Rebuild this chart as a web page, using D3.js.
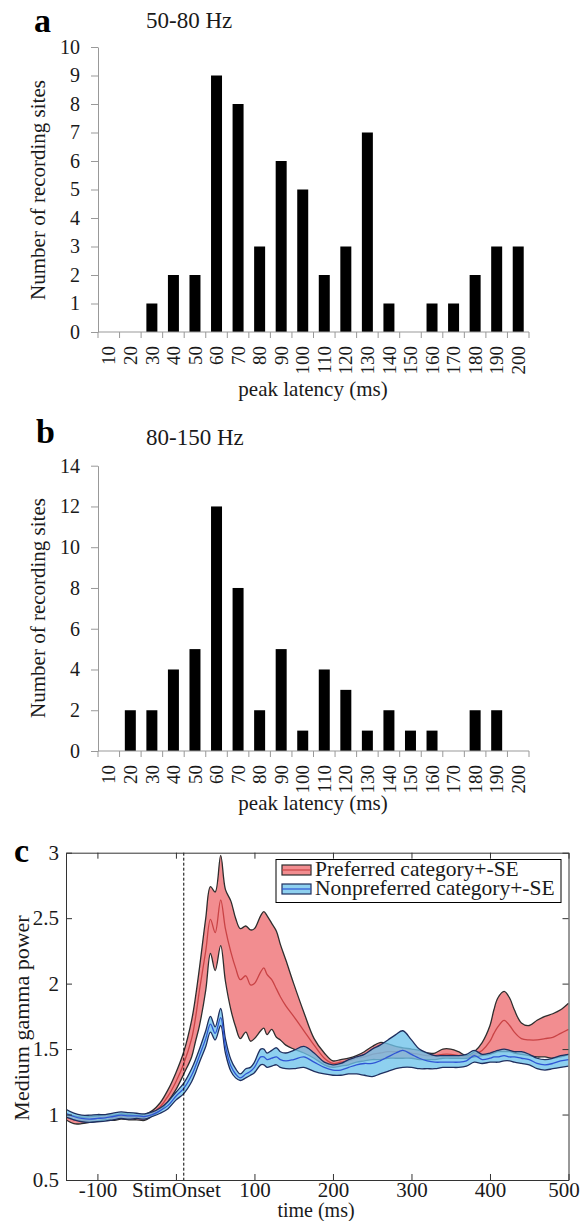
<!DOCTYPE html>
<html>
<head>
<meta charset="utf-8">
<script src="https://cdn.jsdelivr.net/npm/d3@7"></script>
<style>
  body { margin: 0; background: #fff; }
  svg, svg text { font-family: "Liberation Serif", "Times New Roman", Times, serif; }
  svg { display: block; }
</style>
</head>
<body>
<svg id="fig" width="580" height="1221"></svg>
<script>
// ---- Histogram data: number of recording sites per peak-latency bin ----
const latencyBins = [10, 20, 30, 40, 50, 60, 70, 80, 90, 100, 110, 120, 130, 140, 150, 160, 170, 180, 190, 200];
const sitesMedGamma = [0, 0, 1, 2, 2, 9, 8, 3, 6, 5, 2, 3, 7, 1, 0, 1, 1, 2, 3, 3];     // 50-80 Hz
const sitesHighGamma = [0, 2, 2, 4, 5, 12, 8, 2, 5, 1, 4, 3, 1, 2, 1, 1, 0, 2, 2, 0];   // 80-150 Hz
const countTicksA = [0, 1, 2, 3, 4, 5, 6, 7, 8, 9, 10];
const countTicksB = [0, 2, 4, 6, 8, 10, 12, 14];

// ---- Time course of medium gamma power (mean and +-SE bounds) ----
const timeMs = [-140, -130, -120, -110, -100, -90, -80, -70, -60, -50, -40, -30, -20, -10, 0, 10, 20, 25, 30, 38,
  44, 50, 57, 63, 70, 76, 82, 89, 95, 100, 108, 112, 116, 122, 128, 133, 140, 150, 163, 176,
  189, 200, 210, 220, 230, 240, 250, 260, 270, 280, 289, 300, 310, 320, 330, 340, 350, 360, 370, 380,
  390, 400, 405, 410, 418, 425, 431, 440, 450, 460, 470, 480, 490, 500];
const prefUpper = [1.00, 0.99, 0.98, 0.985, 0.99, 1.00, 0.995, 1.005, 1.00, 0.995, 1.00, 1.03, 1.09, 1.19, 1.32, 1.48, 1.72, 1.90, 2.12, 2.50,
  2.74, 2.70, 2.98, 2.72, 2.63, 2.50, 2.42, 2.44, 2.41, 2.42, 2.52, 2.55, 2.52, 2.46, 2.40, 2.30, 2.18, 2.00, 1.78, 1.58,
  1.47, 1.41, 1.42, 1.43, 1.45, 1.48, 1.52, 1.55, 1.54, 1.52, 1.51, 1.50, 1.49, 1.47, 1.47, 1.50, 1.50, 1.48, 1.45, 1.48,
  1.55, 1.68, 1.80, 1.89, 1.94, 1.89, 1.80, 1.70, 1.68, 1.72, 1.75, 1.77, 1.80, 1.85];
const prefMean = [0.98, 0.96, 0.955, 0.96, 0.97, 0.98, 0.975, 0.985, 0.98, 0.98, 0.98, 1.01, 1.06, 1.14, 1.25, 1.39, 1.58, 1.74, 1.95, 2.25,
  2.49, 2.39, 2.64, 2.42, 2.24, 2.12, 2.03, 2.06, 1.99, 2.00, 2.09, 2.12, 2.07, 2.03, 1.96, 1.90, 1.83, 1.75, 1.64, 1.53,
  1.43, 1.39, 1.40, 1.41, 1.43, 1.44, 1.46, 1.47, 1.48, 1.48, 1.49, 1.47, 1.46, 1.45, 1.45, 1.46, 1.46, 1.45, 1.44, 1.46,
  1.49, 1.56, 1.62, 1.67, 1.72, 1.68, 1.63, 1.58, 1.57, 1.57, 1.58, 1.59, 1.62, 1.65];
const prefLower = [0.96, 0.93, 0.93, 0.94, 0.95, 0.96, 0.955, 0.965, 0.96, 0.96, 0.955, 0.99, 1.03, 1.10, 1.19, 1.31, 1.44, 1.56, 1.68, 1.95,
  2.23, 2.10, 2.29, 2.02, 1.80, 1.67, 1.58, 1.63, 1.56, 1.58, 1.64, 1.66, 1.61, 1.65, 1.59, 1.57, 1.53, 1.50, 1.47, 1.43,
  1.38, 1.36, 1.37, 1.38, 1.40, 1.41, 1.42, 1.42, 1.43, 1.43, 1.43, 1.43, 1.42, 1.42, 1.42, 1.43, 1.43, 1.43, 1.43, 1.44,
  1.45, 1.46, 1.47, 1.48, 1.48, 1.48, 1.47, 1.46, 1.45, 1.44, 1.44, 1.43, 1.44, 1.46];
const nonUpper = [1.04, 1.01, 0.995, 0.995, 1.00, 1.00, 1.01, 1.02, 1.015, 1.01, 1.005, 1.02, 1.05, 1.10, 1.17, 1.24, 1.35, 1.42, 1.50, 1.64,
  1.75, 1.67, 1.81, 1.58, 1.42, 1.35, 1.31, 1.35, 1.36, 1.40, 1.50, 1.50, 1.47, 1.49, 1.51, 1.48, 1.47, 1.49, 1.52, 1.47,
  1.40, 1.38, 1.39, 1.42, 1.44, 1.46, 1.50, 1.53, 1.57, 1.61, 1.64, 1.57, 1.50, 1.47, 1.45, 1.45, 1.45, 1.45, 1.46, 1.49,
  1.46, 1.47, 1.48, 1.49, 1.50, 1.49, 1.48, 1.48, 1.46, 1.43, 1.42, 1.43, 1.45, 1.46];
const nonMean = [1.01, 0.985, 0.97, 0.965, 0.97, 0.975, 0.985, 0.995, 0.99, 0.99, 0.985, 1.00, 1.03, 1.07, 1.14, 1.20, 1.30, 1.37, 1.45, 1.58,
  1.69, 1.62, 1.74, 1.52, 1.37, 1.31, 1.28, 1.31, 1.33, 1.36, 1.44, 1.44, 1.42, 1.43, 1.44, 1.42, 1.41, 1.42, 1.44, 1.40,
  1.36, 1.34, 1.34, 1.36, 1.38, 1.39, 1.39, 1.41, 1.44, 1.47, 1.49, 1.46, 1.43, 1.41, 1.40, 1.40, 1.40, 1.40, 1.41, 1.45,
  1.42, 1.43, 1.44, 1.44, 1.45, 1.44, 1.44, 1.43, 1.42, 1.39, 1.38, 1.39, 1.41, 1.42];
const nonLower = [0.98, 0.96, 0.945, 0.94, 0.945, 0.95, 0.96, 0.97, 0.965, 0.97, 0.965, 0.985, 1.01, 1.045, 1.11, 1.16, 1.25, 1.32, 1.40, 1.52,
  1.63, 1.57, 1.68, 1.47, 1.33, 1.28, 1.26, 1.28, 1.30, 1.32, 1.38, 1.38, 1.36, 1.37, 1.38, 1.36, 1.35, 1.35, 1.36, 1.33,
  1.31, 1.30, 1.30, 1.31, 1.31, 1.30, 1.29, 1.31, 1.33, 1.35, 1.36, 1.36, 1.35, 1.35, 1.35, 1.36, 1.36, 1.36, 1.37, 1.40,
  1.39, 1.40, 1.40, 1.40, 1.41, 1.41, 1.40, 1.39, 1.38, 1.35, 1.34, 1.35, 1.36, 1.37];
const timeTicks = [-100, 0, 100, 200, 300, 400, 500];
const timeTickLabels = ["-100", "StimOnset", "100", "200", "300", "400", "500"];
const powerTicks = [0.5, 1, 1.5, 2, 2.5, 3];
const stimMarkerMs = 10;

const serif = "'Liberation Serif', 'Times New Roman', Times, serif";
const svg = d3.select("#fig").attr("font-family", serif);
const ink = "#1a1a1a";

// ---------- Histogram panels ----------
function drawHistogram(counts, yMax, yTicks, base, top, letter, title, letterPos, titleY, xLabelY, yLabelY) {
  const g = svg.append("g").attr("font-family", serif);
  const x = d3.scaleBand().domain(latencyBins).range([98, 529]).paddingInner(0.49).paddingOuter(0.245);
  const y = d3.scaleLinear().domain([0, yMax]).range([base, top]);

  g.selectAll("rect.bar")
    .data(latencyBins.map((b, i) => ({ bin: b, n: counts[i] })))
    .join("rect")
    .attr("class", "bar")
    .attr("x", d => x(d.bin))
    .attr("width", x.bandwidth())
    .attr("y", d => y(d.n))
    .attr("height", d => y(0) - y(d.n))
    .attr("fill", "#000");

  // value axis
  const ya = g.append("g")
    .attr("transform", "translate(98,0)")
    .call(d3.axisLeft(y).tickValues(yTicks).tickSizeInner(7).tickSizeOuter(0).tickPadding(11));
  ya.attr("font-family", serif).attr("font-size", 20);
  ya.select(".domain").attr("stroke", "#999");
  ya.selectAll(".tick line").attr("stroke", "#999");
  ya.selectAll(".tick text").attr("fill", ink);

  // category axis: ticks on bin boundaries, labels rotated under each bin
  const off = x.step() * x.paddingInner() / 2;
  const bounds = latencyBins.map(b => x(b) - off);
  bounds.push(x(latencyBins[latencyBins.length - 1]) + x.bandwidth() + off);
  g.append("line")
    .attr("x1", bounds[0]).attr("x2", bounds[bounds.length - 1])
    .attr("y1", y(0)).attr("y2", y(0))
    .attr("stroke", "#999");
  g.selectAll("line.btick").data(bounds).join("line")
    .attr("class", "btick")
    .attr("x1", d => d).attr("x2", d => d)
    .attr("y1", y(0)).attr("y2", y(0) + 6)
    .attr("stroke", "#999");
  g.selectAll("text.blabel").data(latencyBins).join("text")
    .attr("class", "blabel")
    .attr("transform", d => `translate(${x(d) + x.bandwidth() / 2},${y(0) + 14}) rotate(-90)`)
    .attr("text-anchor", "end")
    .attr("dy", "0.35em")
    .attr("font-size", 19)
    .attr("fill", ink)
    .text(d => d);

  g.append("text")
    .attr("x", 313).attr("y", xLabelY)
    .attr("text-anchor", "middle")
    .attr("font-size", 21)
    .attr("fill", ink)
    .text("peak latency (ms)");

  g.append("text")
    .attr("transform", `translate(45,${yLabelY}) rotate(-90)`)
    .attr("text-anchor", "middle")
    .attr("font-size", 21)
    .attr("fill", ink)
    .text("Number of recording sites");

  g.append("text")
    .attr("x", letterPos[0]).attr("y", letterPos[1])
    .attr("font-size", 34).attr("font-weight", "bold")
    .attr("fill", "#000")
    .text(letter);
  g.append("text")
    .attr("x", 146).attr("y", titleY)
    .attr("font-size", 23)
    .attr("fill", ink)
    .text(title);
}

drawHistogram(sitesMedGamma, 10, countTicksA, 332, 47, "a", "50-80 Hz", [34, 32], 28, 396, 190);
drawHistogram(sitesHighGamma, 14, countTicksB, 751, 465.7, "b", "80-150 Hz", [36, 443], 445, 810, 608);

// ---------- Time course panel ----------
const xC = d3.scaleLinear().domain([-140, 500]).range([66, 568.5]);
const yC = d3.scaleLinear().domain([0.5, 3]).range([1180, 852.7]);
const gc = svg.append("g").attr("font-family", serif);

gc.append("clipPath").attr("id", "plotClip")
  .append("rect")
  .attr("x", xC(-140)).attr("y", yC(3))
  .attr("width", xC(500) - xC(-140)).attr("height", yC(0.5) - yC(3));

const plot = gc.append("g").attr("clip-path", "url(#plotClip)");
const curve = d3.curveCatmullRom.alpha(0.5);
const idx = d3.range(timeMs.length);

function band(upper, mean, lower, fill, fillOpacity, edge, meanColor) {
  const area = d3.area().x(i => xC(timeMs[i])).y0(i => yC(lower[i])).y1(i => yC(upper[i])).curve(curve);
  plot.append("path").datum(idx).attr("d", area).attr("fill", fill).attr("fill-opacity", fillOpacity);
  [lower, upper].forEach(series => {
    plot.append("path").datum(idx)
      .attr("d", d3.line().x(i => xC(timeMs[i])).y(i => yC(series[i])).curve(curve))
      .attr("fill", "none").attr("stroke", edge).attr("stroke-width", 1.3);
  });
  plot.append("path").datum(idx)
    .attr("d", d3.line().x(i => xC(timeMs[i])).y(i => yC(mean[i])).curve(curve))
    .attr("fill", "none").attr("stroke", meanColor).attr("stroke-width", 1.3);
}

band(prefUpper, prefMean, prefLower, "#f0797c", 0.85, "#2e2e2e", "#c94345");
band(nonUpper, nonMean, nonLower, "#6ec3ea", 0.78, "#1f2f5f", "#2f55d4");

// stimulus onset marker
gc.append("line")
  .attr("x1", xC(stimMarkerMs)).attr("x2", xC(stimMarkerMs))
  .attr("y1", yC(3)).attr("y2", yC(0.5))
  .attr("stroke", "#000").attr("stroke-width", 1).attr("stroke-dasharray", "3,2");

// axes box with inward ticks
function styleAxis(a) {
  a.attr("font-family", serif).attr("font-size", 21);
  a.select(".domain").attr("stroke", "#333");
  a.selectAll(".tick line").attr("stroke", "#333");
  a.selectAll(".tick text").attr("fill", ink);
}
const bottomAxis = gc.append("g").attr("transform", `translate(0,${yC(0.5)})`)
  .call(d3.axisBottom(xC).tickValues(timeTicks).tickFormat((d, i) => timeTickLabels[i])
    .tickSizeInner(-6).tickSizeOuter(0).tickPadding(2));
styleAxis(bottomAxis);
// keep the last label inside the page edge
bottomAxis.selectAll(".tick text").filter(d => d === 500).attr("dx", "-5");
styleAxis(gc.append("g").attr("transform", `translate(0,${yC(3)})`)
  .call(d3.axisTop(xC).tickValues(timeTicks).tickFormat("").tickSizeInner(-6).tickSizeOuter(0)));
styleAxis(gc.append("g").attr("transform", `translate(${xC(-140)},0)`)
  .call(d3.axisLeft(yC).tickValues(powerTicks).tickFormat(d => String(d))
    .tickSizeInner(-6).tickSizeOuter(0).tickPadding(7)));
styleAxis(gc.append("g").attr("transform", `translate(${xC(500)},0)`)
  .call(d3.axisRight(yC).tickValues(powerTicks).tickFormat("").tickSizeInner(-6).tickSizeOuter(0)));

gc.append("text")
  .attr("x", 316).attr("y", 1217)
  .attr("text-anchor", "middle").attr("font-size", 20).attr("fill", ink)
  .text("time (ms)");
gc.append("text")
  .attr("transform", "translate(29,1018) rotate(-90)")
  .attr("text-anchor", "middle").attr("font-size", 22).attr("fill", ink)
  .text("Medium gamma power");
gc.append("text")
  .attr("x", 14).attr("y", 862)
  .attr("font-size", 34).attr("font-weight", "bold").attr("fill", "#000")
  .text("c");

// legend
const legend = gc.append("g");
legend.append("rect")
  .attr("x", 276).attr("y", 859.5).attr("width", 285).attr("height", 43)
  .attr("fill", "#fff").attr("stroke", "#000").attr("stroke-width", 1);
const legendItems = [
  { label: "Preferred category+-SE", fill: "#f0797c", op: 0.85, edge: "#2e2e2e", mean: "#c94345", y: 865 },
  { label: "Nonpreferred category+-SE", fill: "#6ec3ea", op: 0.78, edge: "#1f2f5f", mean: "#2f55d4", y: 884 }
];
legendItems.forEach(it => {
  legend.append("rect")
    .attr("x", 282).attr("y", it.y).attr("width", 29).attr("height", 10)
    .attr("fill", it.fill).attr("fill-opacity", it.op)
    .attr("stroke", it.edge).attr("stroke-width", 1.2);
  legend.append("line")
    .attr("x1", 282).attr("x2", 311).attr("y1", it.y + 5).attr("y2", it.y + 5)
    .attr("stroke", it.mean).attr("stroke-width", 1.2);
  legend.append("text")
    .attr("x", 315).attr("y", it.y + 11)
    .attr("font-size", 21.5).attr("fill", ink)
    .text(it.label);
});
</script>
</body>
</html>
